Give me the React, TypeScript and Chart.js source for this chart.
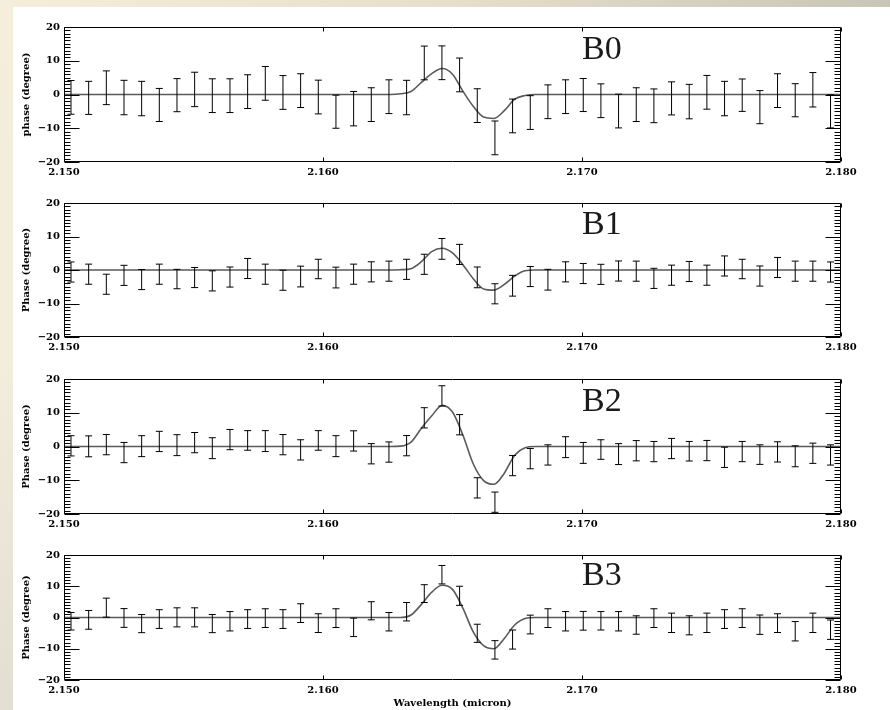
import React, { useEffect, useRef } from "react";
import { Chart, registerables } from "chart.js";

Chart.register(...registerables);

// ---------- data ----------
const WAVELENGTH = [
  2.15027, 2.150952, 2.151634, 2.152316, 2.152998, 2.15368, 2.154362, 2.155044,
  2.155726, 2.156408, 2.15709, 2.157772, 2.158454, 2.159136, 2.159818, 2.1605,
  2.161182, 2.161864, 2.162546, 2.163228, 2.16391, 2.164592, 2.165274, 2.165956,
  2.166638, 2.16732, 2.168002, 2.168684, 2.169366, 2.170048, 2.17073, 2.171412,
  2.172094, 2.172776, 2.173458, 2.17414, 2.174822, 2.175504, 2.176186, 2.176868,
  2.17755, 2.178232, 2.178914, 2.179596,
];

const B0_PHASE = [
  -0.85, -1.0, 2.0, -0.9, -1.2, -3.1, -0.2, 1.5, -0.35, -0.35, 0.85, 3.3, 0.6, 1.15,
  -0.75, -5.1, -4.2, -3.0, -0.65, -0.9, 9.35, 9.4, 5.8, -3.3, -12.85, -6.35, -5.35,
  -2.15, -0.65, -0.15, -1.85, -4.9, -3.0, -3.35, -1.15, -2.1, 0.65, -1.2, -0.2, -3.75,
  1.15, -1.7, 1.4, -5.0,
];
const B0_ERR = [
  5.0, 4.9, 5.0, 5.1, 5.1, 4.9, 4.9, 5.1, 5.0, 5.0, 5.0, 5.0, 5.0, 5.0,
  5.0, 4.9, 5.1, 5.0, 5.0, 5.1, 5.0, 5.0, 5.0, 5.0, 5.0, 5.0, 5.0,
  5.0, 5.0, 4.9, 5.0, 5.0, 5.0, 5.0, 4.9, 5.1, 5.0, 5.1, 4.8, 4.9,
  5.0, 4.9, 5.1, 4.9,
];

const B1_PHASE = [
  -0.6, -1.25, -4.25, -1.6, -2.85, -1.25, -2.7, -2.25, -3.25, -2.1, 0.45, -1.25, -3.05,
  -1.95, 0.3, -2.25, -1.25, -0.55, -0.35, 0.2, 1.7, 6.3, 4.65, -2.2, -7.1, -4.7, -1.95,
  -2.9, -0.55, -1.05, -1.3, -0.3, -0.35, -2.5, -1.55, -0.45, -1.55, 1.2, 0.3, -1.8,
  0.75, -0.35, -0.35, -0.6,
];
const B1_ERR = [
  3.0, 3.0, 3.0, 3.0, 3.0, 3.0, 2.9, 3.0, 3.0, 3.0, 3.0, 3.0, 3.0,
  3.1, 2.9, 3.1, 3.0, 3.0, 3.0, 3.0, 3.0, 3.1, 3.0, 3.1, 3.0, 3.1, 3.0,
  3.1, 3.0, 3.0, 3.0, 3.0, 3.0, 3.0, 3.0, 3.0, 3.0, 3.0, 2.9, 3.0,
  3.0, 3.0, 3.0, 3.0,
];

const B2_PHASE = [
  0.2, 0.05, 0.55, -1.8, 0.1, 1.5, 0.4, 1.15, -0.5, 2.05, 1.8, 1.6, 0.55,
  -1.0, 1.8, 0.1, 1.65, -2.15, -1.65, 0.25, 8.5, 15.0, 6.45, -12.25, -16.5, -5.65, -3.6,
  -2.5, -0.2, -1.9, -0.9, -2.25, -1.25, -1.5, -0.6, -1.4, -1.2, -3.2, -1.5, -2.4,
  -1.6, -2.9, -2.0, -2.5,
];
const B2_ERR = [
  3.0, 3.1, 3.0, 3.0, 3.1, 3.0, 3.1, 3.0, 3.1, 3.0, 2.9, 3.1, 3.0,
  3.0, 2.9, 3.1, 3.0, 3.0, 3.0, 3.0, 3.0, 3.0, 3.0, 3.0, 3.0, 3.0, 3.0,
  3.0, 3.1, 3.1, 2.9, 3.1, 3.0, 3.0, 3.0, 2.9, 3.0, 3.0, 3.0, 2.9,
  3.0, 3.1, 3.0, 3.0,
];

const B3_PHASE = [
  -1.2, -0.75, 3.15, -0.15, -1.95, -0.5, 0.05, 0.05, -1.95, -1.2, -0.5, -0.2, -0.5,
  1.4, -1.8, -0.2, -3.15, 2.15, -1.35, 1.85, 7.65, 13.7, 6.95, -5.05, -10.35, -7.05, -2.25,
  -0.2, -1.2, -1.05, -1.05, -1.2, -2.4, -0.2, -1.7, -2.5, -1.7, -0.5, -0.2, -2.3,
  -1.8, -4.4, -1.7, -3.9,
];
const B3_ERR = [
  2.8, 3.0, 3.05, 3.0, 2.9, 3.0, 3.05, 3.05, 2.9, 3.1, 3.0, 3.0, 3.0,
  3.0, 3.0, 3.0, 2.95, 2.9, 2.95, 2.95, 2.85, 2.95, 3.05, 2.9, 2.95, 3.05, 3.0,
  3.0, 3.1, 3.0, 2.95, 3.1, 2.95, 3.0, 3.1, 3.05, 3.1, 3.0, 3.0, 3.1,
  3.0, 3.1, 3.1, 3.1,
];

const MODEL_WAVELENGTH = [
  2.15, 2.1626, 2.163, 2.1634, 2.1638, 2.1642, 2.1646, 2.165, 2.1654, 2.1658,
  2.1662, 2.1666, 2.167, 2.1674, 2.1678, 2.1682, 2.18,
];
const B0_MODEL = [0, 0, 0.2, 0.9, 3.6, 6.2, 7.7, 6.0, 1.0, -3.5, -6.7, -7.1, -4.8, -1.4, -0.3, 0, 0];
const B1_MODEL = [0, 0, 0.1, 0.4, 2.5, 5.5, 6.5, 5.1, 1.6, -2.6, -5.65, -6.0, -4.3, -1.8, -0.2, 0, 0];
const B2_MODEL = [0, 0, 0.1, 1.3, 5.4, 9.1, 12.2, 10.2, 3.4, -5.1, -10.1, -11.2, -7.9, -2.6, -0.4, 0, 0];
const B3_MODEL = [0, 0, 0, 0.8, 4.2, 8.1, 10.3, 9.0, 3.0, -4.6, -9.0, -10.0, -6.7, -2.4, -0.3, 0, 0];

const X_TICKS = [2.15, 2.16, 2.17, 2.18];
const Y_TICKS = [-20, -10, 0, 10, 20];
const PANEL_LABELS = ["B0", "B1", "B2", "B3"];
const Y_TITLES = ["phase (degree)", "Phase (degree)", "Phase (degree)", "Phase (degree)"];
const X_TITLE = "Wavelength (micron)";

// ---------- styling ----------
const AXIS_FONT = { family: '"DejaVu Serif", serif', size: 10, weight: "bold" as const };

const panelDecor = {
  id: "panelDecor",
  afterDraw(chart: any, _args: any, opts: any) {
    const { ctx, chartArea, scales } = chart;
    const xs = scales.x;
    const ys = scales.y;
    const L = Math.round(chartArea.left) + 0.5;
    const R = Math.round(chartArea.right) - 0.5;
    const T = Math.round(chartArea.top) + 0.5;
    const B = Math.round(chartArea.bottom) - 0.5;
    ctx.save();
    ctx.strokeStyle = "#000";
    ctx.lineWidth = 1;
    ctx.beginPath();
    ctx.rect(L, T, R - L, B - T);
    ctx.stroke();

    const yLo = Y_TICKS[0];
    const yHi = Y_TICKS[Y_TICKS.length - 1];
    ctx.beginPath();
    for (let k = 0; k <= yHi - yLo; k++) {
      const v = yLo + k;
      const py = Math.round(ys.getPixelForValue(v)) + 0.5;
      const len = v % 10 === 0 ? 15 : 6;
      ctx.moveTo(L, py);
      ctx.lineTo(L + len, py);
      ctx.moveTo(R, py);
      ctx.lineTo(R - len, py);
    }
    for (let k = 0; k < X_TICKS.length; k++) {
      const px = Math.round(xs.getPixelForValue(X_TICKS[k])) + 0.5;
      ctx.moveTo(px, B);
      ctx.lineTo(px, B - 4);
      ctx.moveTo(px, T);
      ctx.lineTo(px, T + 4);
    }
    ctx.stroke();

    ctx.fillStyle = "#1a1a1a";
    ctx.font = '34px "Liberation Serif", serif';
    ctx.textAlign = "left";
    ctx.textBaseline = "middle";
    ctx.fillText(opts.label, xs.getPixelForValue(opts.labelX), ys.getPixelForValue(opts.labelY));
    ctx.restore();
  },
};

type PanelProps = {
  label: string;
  yTitle: string;
  phase: number[];
  err: number[];
  model: number[];
  top: number;
  plotH: number;
  xH: number;
  showXTitle: boolean;
};

function Panel({ label, yTitle, phase, err, model, top, plotH, xH, showXTitle }: PanelProps) {
  const ref = useRef<HTMLCanvasElement | null>(null);
  const padTop = 12;
  const height = padTop + plotH + xH;

  useEffect(() => {
    if (!ref.current) return;
    const errData: any[] = [];
    WAVELENGTH.forEach((w, i) => {
      errData.push({ x: w, y: phase[i] - err[i] });
      errData.push({ x: w, y: phase[i] + err[i] });
      errData.push({ x: w, y: null });
    });
    const modelData = MODEL_WAVELENGTH.map((w, i) => ({ x: w, y: model[i] }));

    const chart = new Chart(ref.current, {
      type: "scatter",
      data: {
        datasets: [
          {
            data: errData,
            showLine: true,
            spanGaps: false,
            borderColor: "#000",
            borderWidth: 1,
            pointStyle: "line",
            pointRadius: 3.5,
            pointHoverRadius: 3.5,
            pointBorderColor: "#000",
            pointBackgroundColor: "#000",
            pointBorderWidth: 1,
          } as any,
          {
            data: modelData,
            showLine: true,
            borderColor: "#5a5a5a",
            borderWidth: 1.6,
            pointRadius: 0,
            pointHoverRadius: 0,
            cubicInterpolationMode: "monotone",
          } as any,
        ],
      },
      options: {
        animation: false,
        responsive: false,
        devicePixelRatio: 1,
        events: [],
        layout: { padding: { top: padTop, right: 49, left: 0, bottom: 0 } },
        plugins: {
          legend: { display: false },
          tooltip: { enabled: false },
          panelDecor: { label, labelX: 2.17, labelY: 13.3 },
        } as any,
        scales: {
          x: {
            type: "linear",
            min: X_TICKS[0],
            max: X_TICKS[X_TICKS.length - 1],
            grid: { display: false, drawTicks: false },
            border: { display: false },
            afterBuildTicks: (s: any) => {
              s.ticks = X_TICKS.map((v) => ({ value: v }));
            },
            afterFit: (s: any) => {
              s.height = xH;
            },
            ticks: {
              autoSkip: false,
              maxRotation: 0,
              minRotation: 0,
              padding: 4,
              color: "#000",
              font: AXIS_FONT,
              callback: (v: any) => Number(v).toFixed(3),
            },
            title: {
              display: showXTitle,
              text: X_TITLE,
              color: "#000",
              font: AXIS_FONT,
              padding: { top: 0, bottom: 1 },
            },
          },
          y: {
            type: "linear",
            min: Y_TICKS[0],
            max: Y_TICKS[Y_TICKS.length - 1],
            grid: { display: false, drawTicks: false },
            border: { display: false },
            afterBuildTicks: (s: any) => {
              s.ticks = Y_TICKS.map((v) => ({ value: v }));
            },
            afterFit: (s: any) => {
              s.width = 64;
            },
            ticks: {
              autoSkip: false,
              padding: 4,
              color: "#000",
              font: AXIS_FONT,
              callback: (v: any) => (Number(v) < 0 ? "\u2212" + Math.abs(Number(v)) : String(v)),
            },
            title: {
              display: true,
              text: yTitle,
              color: "#000",
              font: AXIS_FONT,
              padding: { top: 20, bottom: 0 },
            },
          },
        },
      } as any,
      plugins: [panelDecor as any],
    });
    return () => chart.destroy();
  }, [label, yTitle, phase, err, model, plotH, xH, showXTitle]);

  return (
    <canvas
      ref={ref}
      width={890}
      height={height}
      style={{ position: "absolute", left: 0, top: top - padTop, width: 890, height }}
    />
  );
}

const PANELS = [
  { label: PANEL_LABELS[0], yTitle: Y_TITLES[0], phase: B0_PHASE, err: B0_ERR, model: B0_MODEL, top: 27, plotH: 135, xH: 20, showXTitle: false },
  { label: PANEL_LABELS[1], yTitle: Y_TITLES[1], phase: B1_PHASE, err: B1_ERR, model: B1_MODEL, top: 203, plotH: 134, xH: 20, showXTitle: false },
  { label: PANEL_LABELS[2], yTitle: Y_TITLES[2], phase: B2_PHASE, err: B2_ERR, model: B2_MODEL, top: 379, plotH: 135, xH: 20, showXTitle: false },
  { label: PANEL_LABELS[3], yTitle: Y_TITLES[3], phase: B3_PHASE, err: B3_ERR, model: B3_MODEL, top: 555, plotH: 125, xH: 30, showXTitle: true },
];

export default function App() {
  return (
    <div style={{ position: "absolute", left: 0, top: 0, width: 890, height: 710, overflow: "hidden", background: "#ffffff" }}>
      <div style={{ position: "absolute", left: 0, top: 0, width: 890, height: 7, background: "linear-gradient(to right, #f4eedb, #e6dfcb 50%, #c9c5b6)" }} />
      <div style={{ position: "absolute", left: 0, top: 0, width: 13, height: 710, background: "linear-gradient(to bottom, #f4eedb, #f3eddc 50%, #e2ded1)" }} />
      {PANELS.map((p) => (
        <Panel key={p.label} {...p} />
      ))}
    </div>
  );
}
